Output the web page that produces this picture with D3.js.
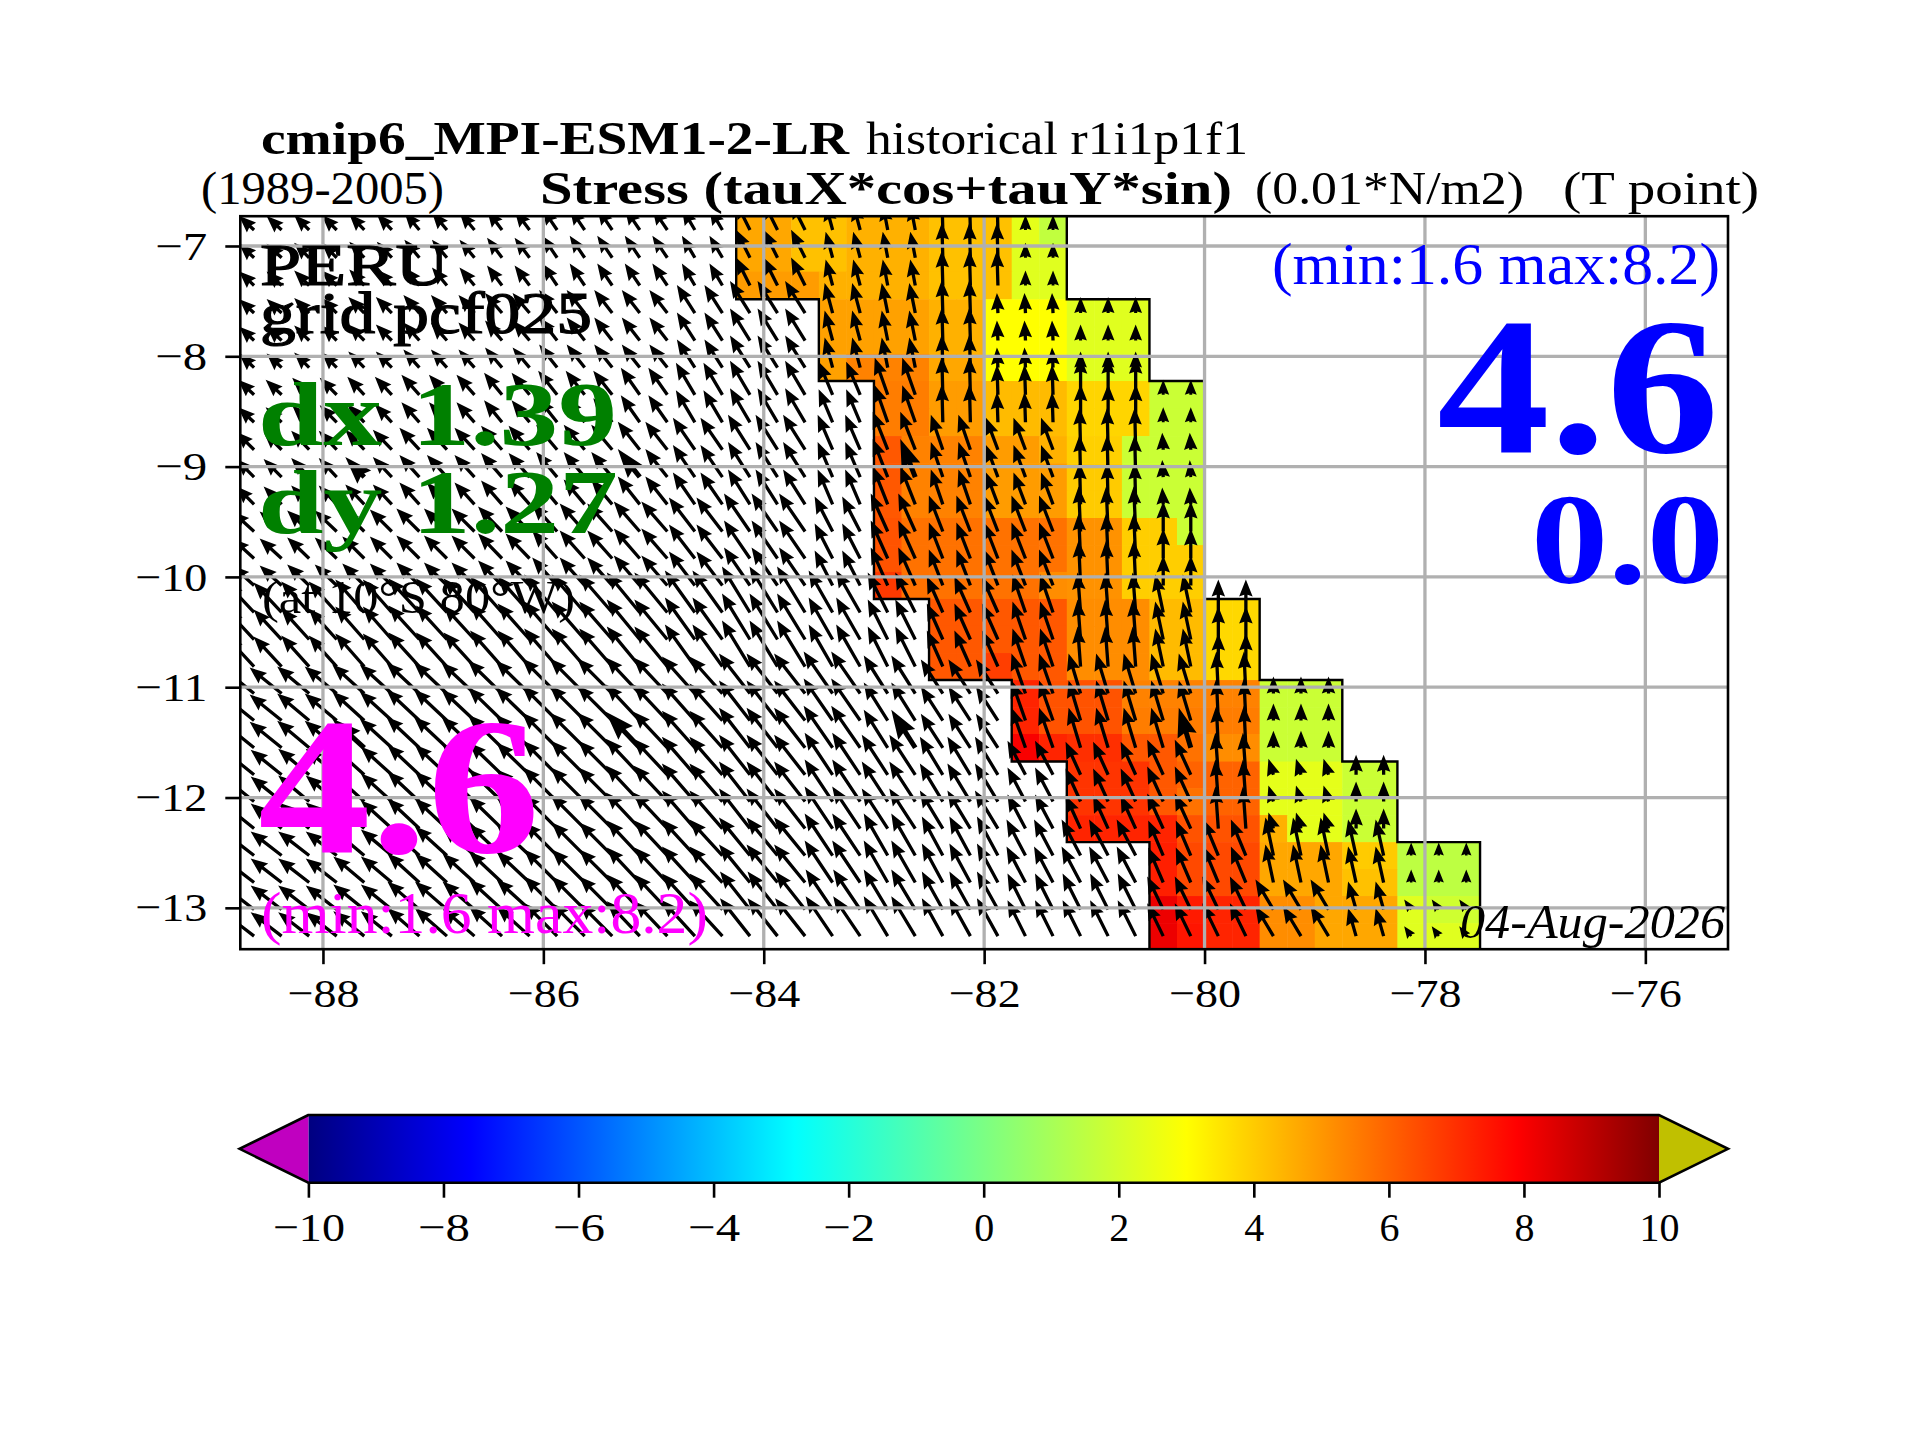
<!DOCTYPE html>
<html>
<head>
<meta charset="utf-8">
<script src="https://cdnjs.cloudflare.com/ajax/libs/d3/7.8.5/d3.min.js"></script>
<style>
body { margin: 0; background: #fff; }
text { font-family: "Liberation Serif", serif; fill: #000; }
</style>
</head>
<body>
<div id="chart"></div>
<script>
const xTicks = [-88, -86, -84, -82, -80, -78, -76];
const yTicks = [-7, -8, -9, -10, -11, -12, -13];
const cbTicks = [-10, -8, -6, -4, -2, 0, 2, 4, 6, 8, 10];

// latitude edges of the model rows, north to south (grid is not quite regular)
const latEdges = [-6.73, -6.98, -7.233, -7.483, -7.733, -7.981, -8.224, -8.474, -8.723, -8.971,
    -9.219, -9.466, -9.711, -9.955, -10.2, -10.445, -10.69, -10.935, -11.18, -11.424,
    -11.674, -11.914, -12.159, -12.404, -12.648, -12.893, -13.138, -13.375];

// first coloured column in each row, column 0 starts at 84.25W
const rowStart = [0, 0, 0, 3, 3, 3, 5, 5, 5, 5, 5, 5, 5, 5, 7, 7, 7, 10, 10, 10, 12, 12, 12, 15, 15, 15, 15];

// coastal stress, 0.01 N/m2, one list per row
const cellValues = [
    [4.7, 4.7, 4.2, 4.2, 4.5, 4.5, 4.5, 4.2, 4.2, 4.2, 2.4, 1.6],
    [4.7, 4.7, 4.2, 4.2, 4.5, 4.5, 4.5, 4.2, 4.2, 4.2, 2.3, 2.3],
    [4.9, 4.9, 4.9, 4.5, 4.5, 4.5, 4.5, 4.2, 4.2, 4.2, 2.3, 2.3],
    [4.8, 4.8, 4.8, 4.8, 4.5, 4.5, 3.0, 3.0, 3.0, 2.3, 2.3, 2.3],
    [4.8, 4.8, 4.8, 4.8, 4.5, 4.5, 3.0, 3.0, 3.0, 2.3, 2.3, 2.3],
    [4.8, 5.4, 5.4, 5.4, 4.7, 4.7, 3.0, 3.0, 3.0, 2.3, 2.3, 2.3],
    [5.5, 5.5, 4.9, 4.9, 4.3, 4.3, 4.3, 3.8, 3.8, 3.8, 1.8, 1.8],
    [5.5, 5.5, 4.9, 4.9, 4.3, 4.3, 4.3, 3.8, 3.8, 3.8, 1.8, 1.8],
    [6.2, 5.4, 5.4, 5.4, 4.9, 4.9, 4.5, 3.9, 3.9, 1.8, 1.8, 1.8],
    [6.2, 5.4, 5.4, 5.4, 4.9, 4.9, 4.9, 4.0, 4.0, 1.8, 1.8, 1.8],
    [6.2, 5.4, 5.4, 5.4, 4.9, 4.9, 4.9, 4.0, 4.0, 1.8, 1.8, 1.8],
    [6.3, 5.7, 5.7, 5.7, 5.7, 5.7, 5.7, 5.1, 5.1, 3.95, 3.95, 1.8],
    [6.3, 5.7, 5.7, 5.7, 5.7, 5.7, 5.7, 5.1, 5.1, 3.95, 3.95, 3.95],
    [6.8, 5.7, 5.7, 5.7, 5.7, 5.7, 5.2, 5.1, 5.1, 3.95, 3.95, 3.95],
    [6.2, 6.2, 6.2, 6.2, 6.2, 5.2, 5.2, 5.2, 4.3, 4.3, 3.75, 3.75],
    [6.2, 6.2, 6.2, 6.2, 6.2, 5.2, 5.2, 5.2, 4.3, 4.3, 3.75, 3.75],
    [6.2, 6.2, 6.7, 6.2, 6.2, 5.2, 5.2, 5.2, 4.3, 4.3, 3.75, 3.75],
    [7.2, 6.3, 6.3, 6.3, 5.4, 5.4, 5.4, 5.4, 5.4, 1.8, 1.8, 1.8],
    [7.2, 6.3, 6.3, 6.3, 5.5, 5.5, 5.5, 5.5, 5.5, 1.8, 1.8, 1.8],
    [8.0, 7.2, 7.0, 7.0, 6.2, 6.2, 5.7, 5.2, 5.2, 1.8, 1.8, 1.8],
    [6.9, 6.9, 6.9, 6.2, 6.0, 6.0, 6.0, 2.4, 2.4, 2.4, 1.8, 1.8],
    [6.9, 6.9, 6.9, 6.2, 5.7, 6.0, 6.0, 2.4, 2.4, 2.4, 1.8, 1.8],
    [7.2, 7.2, 7.2, 7.2, 6.3, 6.3, 6.3, 4.5, 2.4, 2.4, 1.8, 1.8],
    [7.3, 6.5, 6.5, 6.5, 4.7, 4.7, 4.7, 4.0, 4.0, 1.5, 1.5, 1.5],
    [7.3, 6.5, 6.5, 6.5, 4.7, 4.7, 4.7, 4.2, 4.2, 1.5, 1.5, 1.5],
    [8.2, 7.4, 7.2, 7.2, 5.2, 5.2, 4.7, 4.7, 4.7, 2.3, 1.9, 1.9],
    [8.2, 7.5, 7.2, 7.2, 5.2, 5.2, 4.7, 4.7, 4.7, 2.3, 2.3, 2.3]
];

// wind stress vectors come on the coarse model boxes
const boxLonEdges = [-88.75, -88.25, -87.75, -87.25, -86.5, -86, -85.25, -84.75, -84.25, -83.5,
    -83, -82.5, -82, -81.75, -81.25, -80.5, -80, -79.5, -78.75, -78.25, -77.5];
const boxOfRow = [0, 0, 0, 1, 1, 1, 2, 2, 3, 3, 3, 4, 4, 4, 5, 5, 5, 6, 6, 6, 7, 7, 7, 8, 8, 9, 9];

const tauU = [
    [-1.5, -1.5, -1.5, -1.5, -1.5, -1.5, -1.5, -1.3, -1.4, -0.7, -0.5, -0.1, -0.1, 0, 0, 0, 0, 0, 0, 0],
    [-1.5, -1.5, -1.6, -1.6, -1.7, -1.8, -1.8, -1.8, -2.0, -0.8, -0.6, -0.1, -0.1, -0.1, 0, 0, 0, 0, 0, 0],
    [-1.6, -1.7, -1.7, -1.8, -1.8, -1.9, -1.9, -1.9, -2.0, -1.4, -1.3, -0.1, -0.1, -0.1, 0, 0, 0, 0, 0, 0],
    [-1.8, -1.8, -1.9, -2.0, -2.1, -2.1, -2.2, -2.2, -2.2, -1.5, -1.5, -1.2, -1.2, -1.2, -0.1, -0.1, 0, 0, 0, 0],
    [-2.2, -2.2, -2.2, -2.3, -2.4, -2.5, -2.6, -2.6, -2.6, -1.8, -1.7, -1.4, -1.4, -1.4, -0.2, 0, 0, 0, 0, 0],
    [-2.8, -2.8, -2.9, -3.1, -3.2, -3.3, -3.3, -3.0, -2.8, -2.4, -2.0, -1.6, -1.6, -1.3, -0.3, -0.8, 0, 0, 0, 0],
    [-3.2, -3.2, -3.2, -3.3, -3.4, -3.5, -3.4, -3.3, -3.1, -2.9, -2.4, -2.2, -2.2, -1.4, -1.2, -1.2, -0.2, 0, 0, 0],
    [-3.1, -3.1, -3.1, -3.2, -3.3, -3.4, -3.4, -3.3, -3.1, -2.8, -2.6, -2.3, -2.3, -1.8, -1.5, -1.6, -0.3, -0.5, 0, 0],
    [-3.1, -3.1, -3.1, -3.2, -3.3, -3.3, -3.3, -3.3, -3.1, -2.8, -2.4, -2.1, -2.1, -1.9, -1.9, -1.5, -1.5, -0.8, -0.8, 0],
    [-3.1, -3.1, -3.1, -3.2, -3.3, -3.3, -3.3, -3.3, -3.0, -2.7, -2.4, -2.1, -2.1, -1.8, -1.8, -1.6, -1.6, -1.8, -0.8, -0.7]
];
const tauV = [
    [1.4, 1.5, 1.6, 1.8, 2.0, 2.2, 2.2, 2.2, 2.8, 2.6, 2.6, 3.5, 3.5, 1.5, 1.5, 0, 0, 0, 0, 0],
    [1.4, 1.5, 1.6, 1.8, 2.0, 2.3, 2.3, 2.8, 3.2, 3.0, 3.0, 3.3, 2.0, 2.0, 1.6, 0, 0, 0, 0, 0],
    [1.5, 1.7, 1.8, 2.0, 2.2, 2.4, 2.7, 3.2, 3.4, 3.3, 3.7, 3.8, 3.0, 3.0, 3.8, 1.5, 0, 0, 0, 0],
    [1.8, 1.9, 2.0, 2.2, 2.4, 2.5, 2.8, 3.2, 3.5, 3.5, 3.8, 3.5, 3.2, 3.2, 4.2, 1.7, 0, 0, 0, 0],
    [2.0, 2.1, 2.2, 2.3, 2.5, 2.8, 3.0, 3.4, 3.8, 3.5, 3.8, 3.6, 3.6, 3.6, 4.5, 3.0, 0, 0, 0, 0],
    [3.0, 3.1, 3.3, 3.4, 3.6, 3.8, 4.0, 4.2, 4.6, 4.2, 4.0, 3.6, 3.6, 3.8, 4.0, 3.8, 3.3, 0, 0, 0],
    [2.6, 2.7, 2.9, 3.1, 3.3, 3.5, 3.6, 3.7, 4.0, 4.2, 3.8, 3.4, 3.4, 4.0, 4.0, 4.0, 4.2, 1.7, 0, 0],
    [2.5, 2.6, 2.8, 3.0, 3.2, 3.4, 3.6, 3.8, 4.0, 4.2, 4.0, 3.8, 3.8, 3.4, 3.3, 3.5, 4.2, 1.6, 2.0, 0],
    [2.4, 2.4, 2.6, 2.9, 3.1, 3.3, 3.5, 3.6, 3.8, 4.2, 4.2, 3.9, 3.9, 3.6, 3.6, 3.5, 3.6, 3.8, 3.6, 1.3],
    [2.4, 2.4, 2.5, 2.8, 3.0, 3.3, 3.5, 3.6, 3.8, 4.0, 4.0, 3.8, 3.8, 3.6, 3.6, 3.3, 3.3, 3.0, 2.8, 1.0]
];

// every tenth vector is drawn heavier
const boldRows = [9, 19];
const boldCols = [4, 14, 24, 34];

const colorStops = [-10, -7.6, -2.8, 3, 7.9, 10];
const colorRange = ["#000080", "#0000ff", "#00ffff", "#ffff00", "#ff0000", "#800000"];

const svg = d3.select("#chart").append("svg")
    .attr("width", 1920)
    .attr("height", 1440);

const x = d3.scaleLinear().domain([-88.75, -75.25]).range([240.3, 1728]);
const y = d3.scaleLinear().domain([-6.73, -13.375]).range([216.2, 949.2]);
const color = d3.scaleLinear().domain(colorStops).range(colorRange);

const cellLon = c => -84.25 + 0.25 * c;
const rowEnd = r => rowStart[r] + cellValues[r].length;

const defs = svg.append("defs");
defs.append("clipPath").attr("id", "axes-clip")
    .append("rect")
    .attr("x", x.range()[0]).attr("y", y.range()[0])
    .attr("width", x.range()[1] - x.range()[0])
    .attr("height", y.range()[1] - y.range()[0]);

const map = svg.append("g").attr("clip-path", "url(#axes-clip)");

// coloured cells
cellValues.forEach((row, r) => {
    map.append("g").selectAll("rect")
        .data(row)
        .enter()
        .append("rect")
        .attr("x", (d, i) => x(cellLon(rowStart[r] + i)))
        .attr("y", y(latEdges[r]))
        .attr("width", x(cellLon(1)) - x(cellLon(0)) + 0.5)
        .attr("height", y(latEdges[r + 1]) - y(latEdges[r]) + 0.5)
        .attr("fill", d => color(d));
});

// quiver, tail on the cell centre
function arrowPath(len, shaft, headLen, headWid) {
    const s = Math.min(1, len / headLen);
    const hl = headLen * s, hw = headWid * s / 2, w = shaft * s / 2;
    return `M0,${-w}L${len - hl * 0.9},${-w}L${len - hl},${-hw}L${len},0L${len - hl},${hw}L${len - hl * 0.9},${w}L0,${w}Z`;
}

const arrowPx = 10;
const nCols = 45;
latEdges.slice(0, -1).forEach((lat, r) => {
    const latC = (lat + latEdges[r + 1]) / 2;
    const row = boxOfRow[r];
    d3.range(nCols).forEach(k => {
        const lon = -88.75 + 0.25 * k + 0.125;
        if (lon > cellLon(rowEnd(r))) return;
        const b = d3.bisectRight(boxLonEdges, lon) - 1;
        const dx = tauU[row][b] * arrowPx, dy = -tauV[row][b] * arrowPx;
        const len = Math.hypot(dx, dy);
        if (len === 0) return;
        const bold = boldRows.includes(r) && boldCols.includes(k);
        map.append("path")
            .attr("d", bold ? arrowPath(len, 5, 29, 20) : arrowPath(len, 3.3, 17, 13.5))
            .attr("transform", `translate(${x(lon)},${y(latC)}) rotate(${Math.atan2(dy, dx) * 180 / Math.PI})`)
            .attr("fill", "#000");
    });
});

// coast outline
const edgeLine = d3.line().x(d => x(d[0])).y(d => y(d[1]));
const rows = d3.range(cellValues.length);
const leftEdge = rows.flatMap(r => [[cellLon(rowStart[r]), latEdges[r]], [cellLon(rowStart[r]), latEdges[r + 1]]]);
const rightEdge = rows.flatMap(r => [[cellLon(rowEnd(r)), latEdges[r]], [cellLon(rowEnd(r)), latEdges[r + 1]]]);
[leftEdge, rightEdge].forEach(edge => {
    map.append("path")
        .attr("d", edgeLine(edge))
        .attr("fill", "none")
        .attr("stroke", "#000")
        .attr("stroke-width", 2.4);
});

// grid
xTicks.forEach(t => {
    map.append("line")
        .attr("x1", x(t)).attr("x2", x(t))
        .attr("y1", y.range()[0]).attr("y2", y.range()[1])
        .attr("stroke", "#b0b0b0").attr("stroke-width", 3.3);
});
yTicks.forEach(t => {
    map.append("line")
        .attr("x1", x.range()[0]).attr("x2", x.range()[1])
        .attr("y1", y(t)).attr("y2", y(t))
        .attr("stroke", "#b0b0b0").attr("stroke-width", 3.3);
});

svg.append("rect")
    .attr("x", x.range()[0]).attr("y", y.range()[0])
    .attr("width", x.range()[1] - x.range()[0])
    .attr("height", y.range()[1] - y.range()[0])
    .attr("fill", "none")
    .attr("stroke", "#000")
    .attr("stroke-width", 2.6);

// tick labels get the wider Computer Modern set width
const labelWidth = d => (d < 0 ? 32 : 0) + 20 * String(Math.abs(d)).length;

function styleAxis(g) {
    g.select(".domain").remove();
    g.selectAll(".tick line").attr("stroke", "#000").attr("stroke-width", 2.6);
    g.selectAll(".tick text")
        .style("font-family", "'Liberation Serif', serif")
        .style("font-size", "41px")
        .attr("textLength", d => labelWidth(d))
        .attr("lengthAdjust", "spacingAndGlyphs");
}

svg.append("g")
    .attr("transform", `translate(0,${y.range()[1]})`)
    .call(d3.axisBottom(x).tickValues(xTicks).tickSize(15).tickPadding(14).tickFormat(d3.format("d")))
    .call(styleAxis);

svg.append("g")
    .attr("transform", `translate(${x.range()[0]},0)`)
    .call(d3.axisLeft(y).tickValues(yTicks).tickSize(15).tickPadding(18).tickFormat(d3.format("d")))
    .call(styleAxis);

// colour bar
const cb = d3.scaleLinear().domain([-10, 10]).range([308.4, 1659]);
const cbTop = 1115, cbBottom = 1182.7;

const grad = defs.append("linearGradient").attr("id", "cb-grad");
grad.selectAll("stop")
    .data(colorStops)
    .enter()
    .append("stop")
    .attr("offset", d => (d + 10) / 20)
    .attr("stop-color", d => color(d));

svg.append("rect")
    .attr("x", cb(-10))
    .attr("y", cbTop)
    .attr("width", cb(10) - cb(-10))
    .attr("height", cbBottom - cbTop)
    .attr("fill", "url(#cb-grad)");

const cbMid = (cbTop + cbBottom) / 2;
svg.append("path")
    .attr("d", `M${cb(-10)},${cbTop}L239.6,${cbMid}L${cb(-10)},${cbBottom}Z`)
    .attr("fill", "#c000c0");
svg.append("path")
    .attr("d", `M${cb(10)},${cbTop}L1728,${cbMid}L${cb(10)},${cbBottom}Z`)
    .attr("fill", "#c0c000");
svg.append("path")
    .attr("d", `M${cb(-10)},${cbTop}L239.6,${cbMid}L${cb(-10)},${cbBottom}L${cb(10)},${cbBottom}L1728,${cbMid}L${cb(10)},${cbTop}Z`)
    .attr("fill", "none")
    .attr("stroke", "#000")
    .attr("stroke-width", 2.6);

svg.append("g")
    .attr("transform", `translate(0,${cbBottom})`)
    .call(d3.axisBottom(cb).tickValues(cbTicks).tickSize(15).tickPadding(14).tickFormat(d3.format("d")))
    .call(styleAxis);

// texts, stretched to the width they have in the reference
function label(str, x1, x2, base, size, opts = {}) {
    const t = svg.append("text")
        .attr("x", x1)
        .attr("y", base)
        .attr("textLength", x2 - x1)
        .attr("lengthAdjust", "spacingAndGlyphs")
        .style("font-size", size + "px")
        .style("font-weight", opts.bold ? "bold" : "normal")
        .style("font-style", opts.italic ? "italic" : "normal")
        .style("fill", opts.color || "#000")
        .text(str);
    if (opts.stroke) t.style("stroke", opts.color || "#000").style("stroke-width", opts.stroke);
    return t;
}

label("cmip6_MPI-ESM1-2-LR", 261, 849, 154, 46, {bold: true});
label("historical r1i1p1f1", 866, 1248, 154, 46);
label("(1989-2005)", 201, 444, 204, 46);
label("Stress (tauX*cos+tauY*sin)", 540, 1232, 204, 46, {bold: true});
label("(0.01*N/m2)", 1255, 1524, 204, 46);
label("(T point)", 1563, 1759, 204, 46);

label("PERU", 260, 449, 285, 60, {stroke: 1.2});
label("grid pcf025", 260, 592, 333, 60, {stroke: 1.2});
label("dx 1.39", 258, 617, 445, 92, {bold: true, color: "#008000"});
label("dy 1.27", 258, 618, 533, 92, {bold: true, color: "#008000"});
label("(at 10°S 80°W)", 262, 575, 613, 46);
label("4.6", 258, 540, 852, 195, {bold: true, color: "#ff00ff"});
label("(min:1.6 max:8.2)", 261, 708, 933, 60, {color: "#ff00ff"});

label("(min:1.6 max:8.2)", 1272, 1720, 284, 60, {color: "#0000ff"});
label("4.6", 1437, 1719, 452, 195, {bold: true, color: "#0000ff"});
label("0.0", 1531, 1724, 583, 129, {bold: true, color: "#0000ff"});
label("04-Aug-2026", 1460, 1725, 938, 48, {italic: true});
</script>
</body>
</html>
